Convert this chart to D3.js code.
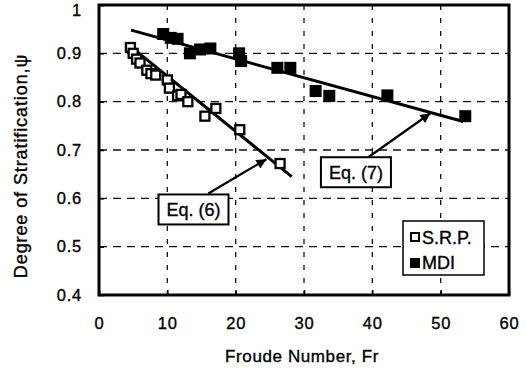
<!DOCTYPE html>
<html><head><meta charset="utf-8">
<script src="https://cdn.jsdelivr.net/npm/d3@7"></script>
<style>
body{margin:0;background:#fff;}
text{font-family:"Liberation Sans",Arial,Helvetica,sans-serif;fill:#000;stroke:#000;stroke-width:0.35px;}
</style></head>
<body><svg id="c" width="526" height="370"></svg>
<script>
// ---- data ----
const xTicks = [0,10,20,30,40,50,60];
const yTicks = [0.4,0.5,0.6,0.7,0.8,0.9,1];
const yTickLabels = ["0.4","0.5","0.6","0.7","0.8","0.9","1"];
const srpFr  = [4.6,5.0,5.5,6.0,7.0,7.6,8.3,10.0,10.3,11.5,12.0,13.0,15.5,17.1,20.6,26.5];
const srpPsi = [0.912,0.900,0.888,0.880,0.865,0.858,0.855,0.845,0.828,0.812,0.815,0.800,0.770,0.786,0.742,0.672];
const mdiFr  = [9.4,10.5,11.5,13.3,14.8,16.3,20.5,20.8,26.1,28.0,31.7,33.7,42.2,53.6];
const mdiPsi = [0.940,0.932,0.930,0.900,0.908,0.910,0.900,0.884,0.870,0.870,0.822,0.812,0.813,0.770];
const eq6Fr = [4.2,28.2],  eq6Psi = [0.919,0.645];
const eq7Fr = [4.7,53.3],  eq7Psi = [0.948,0.759];
const seriesNames = ["S.R.P.","MDI"];
const eqLabels = ["Eq. (6)","Eq. (7)"];

const svg = d3.select("#c");
const x = d3.scaleLinear().domain([0,60]).range([99,509]);
const y = d3.scaleLinear().domain([0.4,1]).range([295,5]);

// grid
const g = svg.append("g");
g.selectAll("line.gx").data(xTicks.slice(1,-1)).join("line")
  .attr("x1",d=>x(d)).attr("x2",d=>x(d)).attr("y1",y(1)).attr("y2",y(0.4))
  .attr("stroke","#111").attr("stroke-width",1.3).attr("stroke-dasharray","5,8");
g.selectAll("line.gy").data(yTicks.slice(1,-1)).join("line")
  .attr("y1",d=>y(d)).attr("y2",d=>y(d)).attr("x1",x(0)).attr("x2",x(60))
  .attr("stroke","#111").attr("stroke-width",1.3).attr("stroke-dasharray","8,6");

// axes
const ax = svg.append("g").attr("transform",`translate(0,${y(0.4)})`)
  .call(d3.axisBottom(x).tickValues(xTicks).tickSize(-5).tickPadding(22).tickFormat(d3.format("d")));
const ay = svg.append("g").attr("transform",`translate(${x(0)},0)`)
  .call(d3.axisLeft(y).tickValues(yTicks).tickSize(-5).tickPadding(17).tickFormat((d,i)=>yTickLabels[i]));
[ax,ay].forEach(a=>{
  a.select(".domain").remove();
  a.selectAll(".tick line").attr("stroke","#000").attr("stroke-width",1.5);
  a.selectAll(".tick text").style("font-size","16.5px").attr("letter-spacing","0.8px").attr("fill","#000");
});
ay.selectAll(".tick text").filter(d=>d===1).attr("dy","0.62em");

// frame
svg.append("rect").attr("x",x(0)).attr("y",y(1)).attr("width",x(60)-x(0)).attr("height",y(0.4)-y(1))
  .attr("fill","none").attr("stroke","#000").attr("stroke-width",3);

// fit lines
const line = d3.line().x(d=>x(d[0])).y(d=>y(d[1]));
[[eq6Fr,eq6Psi],[eq7Fr,eq7Psi]].forEach(([f,p])=>{
  svg.append("path").attr("d",line(f.map((v,i)=>[v,p[i]])))
    .attr("stroke","#000").attr("stroke-width",3).attr("fill","none");
});

// points
const s = 11;
svg.selectAll("rect.srp").data(srpFr.map((v,i)=>[v,srpPsi[i]])).join("rect")
  .attr("x",d=>x(d[0])-s/2+1).attr("y",d=>y(d[1])-s/2+1).attr("width",s-2).attr("height",s-2)
  .attr("fill","#fff").attr("stroke","#000").attr("stroke-width",2.3);
svg.selectAll("rect.mdi").data(mdiFr.map((v,i)=>[v,mdiPsi[i]])).join("rect")
  .attr("x",d=>x(d[0])-6).attr("y",d=>y(d[1])-6).attr("width",12).attr("height",12)
  .attr("fill","#000");

// arrows
const defs = svg.append("defs");
defs.append("marker").attr("id","ah").attr("viewBox","0 0 10 10").attr("refX",10).attr("refY",5)
  .attr("markerWidth",15).attr("markerHeight",10).attr("markerUnits","userSpaceOnUse").attr("orient","auto")
  .append("path").attr("d","M0,0L10,5L0,10Z").attr("fill","#000");
const arrows = [[[16.0,0.61],[24.5,0.681]],[[39.4,0.685],[48.5,0.776]]];
arrows.forEach(a=>{
  svg.append("line").attr("x1",x(a[0][0])).attr("y1",y(a[0][1])).attr("x2",x(a[1][0])).attr("y2",y(a[1][1]))
    .attr("stroke","#000").attr("stroke-width",2.2).attr("marker-end","url(#ah)");
});

// eq label boxes
const boxes = [[13.83,0.577],[37.6,0.654]];
boxes.forEach((b,i)=>{
  const cx = x(b[0]), cy = y(b[1]), w=70, h=30;
  svg.append("rect").attr("x",cx-w/2).attr("y",cy-h/2).attr("width",w).attr("height",h)
    .attr("fill","#fff").attr("stroke","#000").attr("stroke-width",2);
  svg.append("text").attr("x",cx).attr("y",cy+6.5).attr("text-anchor","middle")
    .style("font-size","18px").text(eqLabels[i]);
});

// legend
const lg = svg.append("g").attr("transform","translate(403,221)");
lg.append("rect").attr("width",81).attr("height",54).attr("fill","#fff").attr("stroke","#000").attr("stroke-width",1.5);
lg.append("rect").attr("x",8).attr("y",12).attr("width",8).attr("height",8).attr("fill","#fff").attr("stroke","#000").attr("stroke-width",2);
lg.append("rect").attr("x",7).attr("y",37).attr("width",10).attr("height",10).attr("fill","#000");
lg.append("text").attr("x",19).attr("y",23).style("font-size","18px").text(seriesNames[0]);
lg.append("text").attr("x",19).attr("y",48).style("font-size","18px").text(seriesNames[1]);

// axis titles
svg.append("text").attr("x",302).attr("y",362).attr("text-anchor","middle")
  .style("font-size","17px").attr("letter-spacing","0.6px").text("Froude Number, Fr");
svg.append("text").attr("transform","translate(27,166) rotate(-90)").attr("text-anchor","middle")
  .style("font-size","18px").attr("letter-spacing","0.9px").text("Degree of Stratification,ψ");
</script></body></html>
